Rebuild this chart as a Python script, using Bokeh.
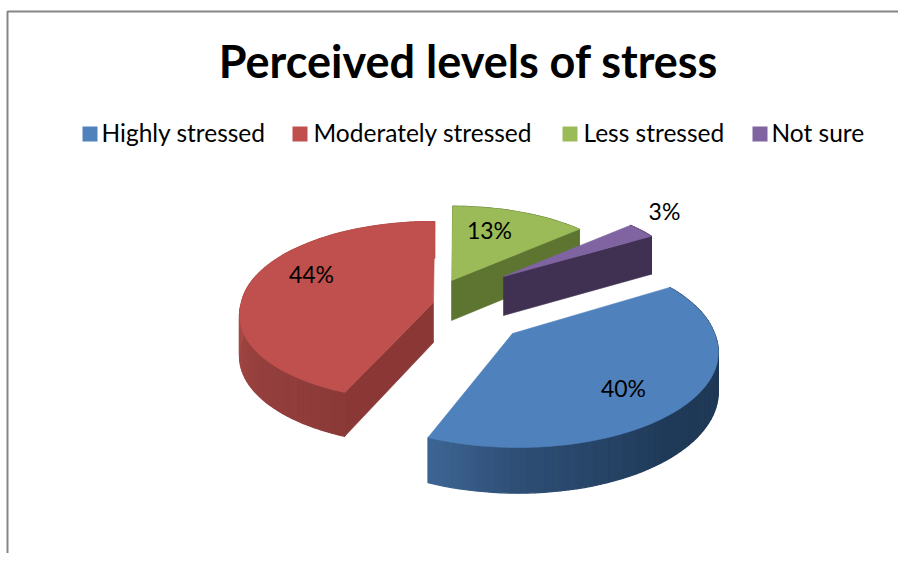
import numpy as np
from bokeh.plotting import figure
from bokeh.models import Range1d, ColumnDataSource
from bokeh.core.properties import value
from bokeh.embed import file_html
from bokeh.resources import INLINE

# ---- data ----
title_text = "Perceived levels of stress"
categories = ["Highly stressed", "Moderately stressed", "Less stressed", "Not sure"]
percents = [40, 44, 13, 3]
colors = ["#4F81BD", "#C0504D", "#9BBB59", "#8064A2"]
cut_wall_colors = ["#1F3652", "#8A3735", "#5E7531", "#403152"]
first_slice_deg = 58

# ---- layout (pixels in image space) ----
FONT = "Lato"
apex = [(512, 333), (433, 302), (451, 280), (503, 276)]
horiz = [202, 192, 180, 179]
vert = [94.7, 88.6, 78, 78]
persp = [0.169, 0.094, 0.05, 0.05]
lean = [0.05, -0.11, 0.0, 0.0]
depth = [38, 40, 40, 39]
wall_stops = [
    [(58, "#1F3652"), (140, "#1F3A58"), (180, "#2E4E75"), (202, "#3D6594")],
    [(202, "#8B3A38"), (240, "#96403E"), (275, "#A94A47"), (361, "#A94A47")],
    [(0, "#5E7531"), (48, "#5E7531")],
    [(47, "#403152"), (58, "#403152")],
]
label_pos = [(623, 387), (311, 273), (489, 229), (664, 210)]
legend_swatch_x = [82, 292, 562, 752]
legend_text_x = [101, 313, 583, 771]


def hex_rgb(c):
    return np.array([int(c[i:i + 2], 16) for i in (1, 3, 5)], float)


def wall_color(stops, t):
    ts = [s[0] for s in stops]
    rgb = np.array([hex_rgb(s[1]) for s in stops])
    vals = [np.interp(t, ts, rgb[:, k]) for k in range(3)]
    return "#%02X%02X%02X" % tuple(int(round(v)) for v in vals)


def project(i, deg, r=1.0, drop=0.0):
    th = np.radians(deg)
    s = 1 / (1 + persp[i] * r * np.cos(th))
    dy = -vert[i] * r * np.cos(th) * s
    x = apex[i][0] + horiz[i] * r * np.sin(th) * s + lean[i] * np.maximum(0, dy)
    y = apex[i][1] + dy + drop * s
    return x, y


p = figure(width=898, height=553, x_range=Range1d(0, 898), y_range=Range1d(553, 0),
           x_axis_type=None, y_axis_type=None, toolbar_location=None,
           output_backend="svg", min_border=0, outline_line_color=None)

# chart-area border
p.line([7, 7, 898], [553, 11, 11], line_color="#868686", line_width=2)

# slice angles from the values (angles wrap after a full turn)
edges = first_slice_deg + np.concatenate([[0], np.cumsum(percents)]) * 3.6
spans = [(edges[0], edges[1]), (edges[1], edges[2]),
         (edges[2] - 360, edges[3] - 360), (edges[3] - 360, edges[4] - 360)]

for i in [2, 3, 1, 0]:
    a, b = spans[i]
    # outer wall, shaded strip by strip
    steps = int(max(6, (b - a) / 2))
    grid = np.linspace(a, b, steps + 1)
    xs, ys, cs = [], [], []
    for t0, t1 in zip(grid[:-1], grid[1:]):
        x0, y0 = project(i, t0)
        x1, y1 = project(i, t1)
        x2, y2 = project(i, t1, drop=depth[i])
        x3, y3 = project(i, t0, drop=depth[i])
        xs.append([x0, x1, x2, x3])
        ys.append([y0, y1, y2, y3])
        cs.append(wall_color(wall_stops[i], (t0 + t1) / 2))
    src = ColumnDataSource(dict(xs=xs, ys=ys, c=cs))
    p.patches("xs", "ys", source=src, fill_color="c", line_color="c", line_width=1.2)

    # radial cut walls: only those that face the viewer
    visible = []
    if np.sin(np.radians(a)) < 0:
        visible.append(a)
    if np.sin(np.radians(b)) > 0.05:
        visible.append(b)
    for t in visible:
        ex, ey = project(i, t)
        fx, fy = project(i, t, drop=depth[i])
        ax, ay = apex[i]
        p.patch([ax, ex, fx, ax], [ay, ey, fy, ay + depth[i]],
                fill_color=cut_wall_colors[i], line_color=cut_wall_colors[i], line_width=0.6)

    # top face
    arc = np.linspace(a, b, 80)
    tx, ty = project(i, arc)
    p.patch(np.r_[apex[i][0], tx], np.r_[apex[i][1], ty],
            fill_color=colors[i], line_color=colors[i], line_width=0.6)

# data labels
p.text([q[0] for q in label_pos], [q[1] for q in label_pos],
       text=[f"{v}%" for v in percents], text_font=value(FONT), text_font_size="23px",
       text_color="#000000", text_align="center", text_baseline="middle")

# title
p.text([468], [60], text=[title_text], text_font=value(FONT), text_font_size="45px",
       text_font_style="bold", text_color="#000000", text_align="center", text_baseline="middle")

# legend
for i, name in enumerate(categories):
    p.rect([legend_swatch_x[i] + 7.5], [133.5], width=15, height=15, fill_color=colors[i], line_color=None)
    p.text([legend_text_x[i]], [132], text=[name], text_font=value(FONT), text_font_size="24.5px",
           text_color="#000000", text_align="left", text_baseline="middle")

open("out.html", "w").write(file_html(p, INLINE))
